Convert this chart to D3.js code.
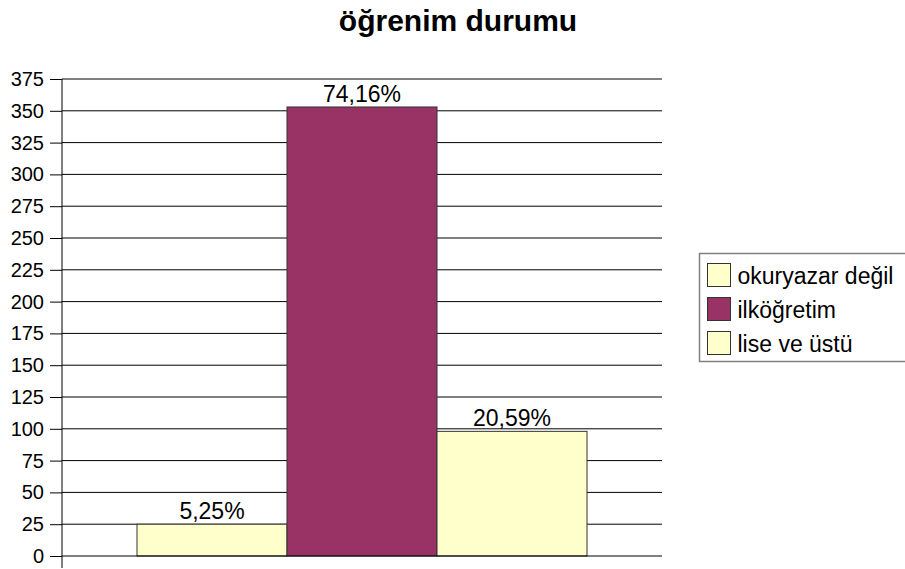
<!DOCTYPE html>
<html>
<head>
<meta charset="utf-8">
<script src="https://cdn.jsdelivr.net/npm/d3@7"></script>
<style>
  body { margin: 0; background: #fff; }
  svg text { font-family: "Liberation Sans", Arial, sans-serif; fill: #000; }
</style>
</head>
<body>
<div id="chart"></div>
<script>
const title = 'öğrenim durumu';
const categories = ['öğrenim durumu'];
const seriesNames = ['okuryazar değil', 'ilköğretim', 'lise ve üstü'];
const seriesValues = [25, 353, 98];
const seriesColors = ['#ffffcc', '#993366', '#ffffcc'];
const yTicks = [0, 25, 50, 75, 100, 125, 150, 175, 200, 225, 250, 275, 300, 325, 350, 375];

const W = 905, H = 569;
const margin = { t: 79, r: 243, b: 13, l: 62 };
const innerWidth = W - margin.l - margin.r;
const innerHeight = H - margin.t - margin.b;

const svg = d3.select('#chart')
  .append('svg')
  .attr('width', W)
  .attr('height', H);

svg.append('text')
  .attr('x', 458)
  .attr('y', 31)
  .attr('text-anchor', 'middle')
  .style('font-size', '30px')
  .style('font-weight', 'bold')
  .text(title);

const plot = svg.append('g')
  .attr('transform', `translate(${margin.l}, ${margin.t})`);

const y = d3.scaleLinear().domain([0, 375]).range([innerHeight, 0]);
const x0 = d3.scaleBand().domain(categories).range([0, innerWidth]).paddingOuter(1 / 6);
const x1 = d3.scaleBand().domain(seriesNames).range([0, x0.bandwidth()]);

// gridlines
plot.selectAll('.grid')
  .data(yTicks.filter(d => d > 0))
  .enter().append('line')
  .attr('x1', 0).attr('x2', innerWidth)
  .attr('y1', d => y(d)).attr('y2', d => y(d))
  .attr('stroke', d => d === 375 ? '#808080' : '#000')
  .attr('stroke-width', d => d === 375 ? 2 : 1);

const total = d3.sum(seriesValues);
const fmt = d3.format('.2f');

const bars = plot.append('g')
  .attr('transform', `translate(${x0(categories[0])}, 0)`);

bars.selectAll('rect')
  .data(seriesValues)
  .enter().append('rect')
  .attr('x', (d, i) => x1(seriesNames[i]))
  .attr('y', d => y(d))
  .attr('width', x1.bandwidth())
  .attr('height', d => y(0) - y(d))
  .attr('fill', (d, i) => seriesColors[i])
  .attr('stroke', '#333')
  .attr('stroke-width', 1);

// percentage labels
bars.selectAll('.lbl')
  .data(seriesValues)
  .enter().append('text')
  .attr('class', 'lbl')
  .attr('x', (d, i) => x1(seriesNames[i]) + x1.bandwidth() / 2)
  .attr('y', d => y(d) - 5)
  .attr('text-anchor', 'middle')
  .style('font-size', '23px')
  .text(d => fmt(d / total * 100).replace('.', ',') + '%');

// y axis
const yAxis = d3.axisLeft(y).tickValues(yTicks).tickSize(12).tickPadding(6);
const ya = plot.append('g').call(yAxis);
ya.select('.domain').remove();
ya.selectAll('line').attr('stroke', '#000');
ya.selectAll('text').style('font-size', '20px').style('font-family', '"Liberation Sans", Arial, sans-serif');

plot.append('line')
  .attr('x1', 0).attr('x2', 0)
  .attr('y1', 0).attr('y2', innerHeight + 12)
  .attr('stroke', '#000');
plot.append('line')
  .attr('x1', 0).attr('x2', innerWidth)
  .attr('y1', innerHeight).attr('y2', innerHeight)
  .attr('stroke', '#000');

// legend
const legend = svg.append('g').attr('transform', 'translate(699.5, 253.5)');
legend.append('rect')
  .attr('width', 215).attr('height', 108)
  .attr('fill', '#fff').attr('stroke', '#808080').attr('stroke-width', 1.5);

const rows = legend.selectAll('.row')
  .data(seriesNames)
  .enter().append('g')
  .attr('transform', (d, i) => `translate(8, ${10 + i * 34})`);
rows.append('rect')
  .attr('width', 23).attr('height', 23)
  .attr('fill', (d, i) => seriesColors[i])
  .attr('stroke', '#333');
rows.append('text')
  .attr('x', 30).attr('y', 20)
  .style('font-size', '23px')
  .text(d => d);
</script>
</body>
</html>
